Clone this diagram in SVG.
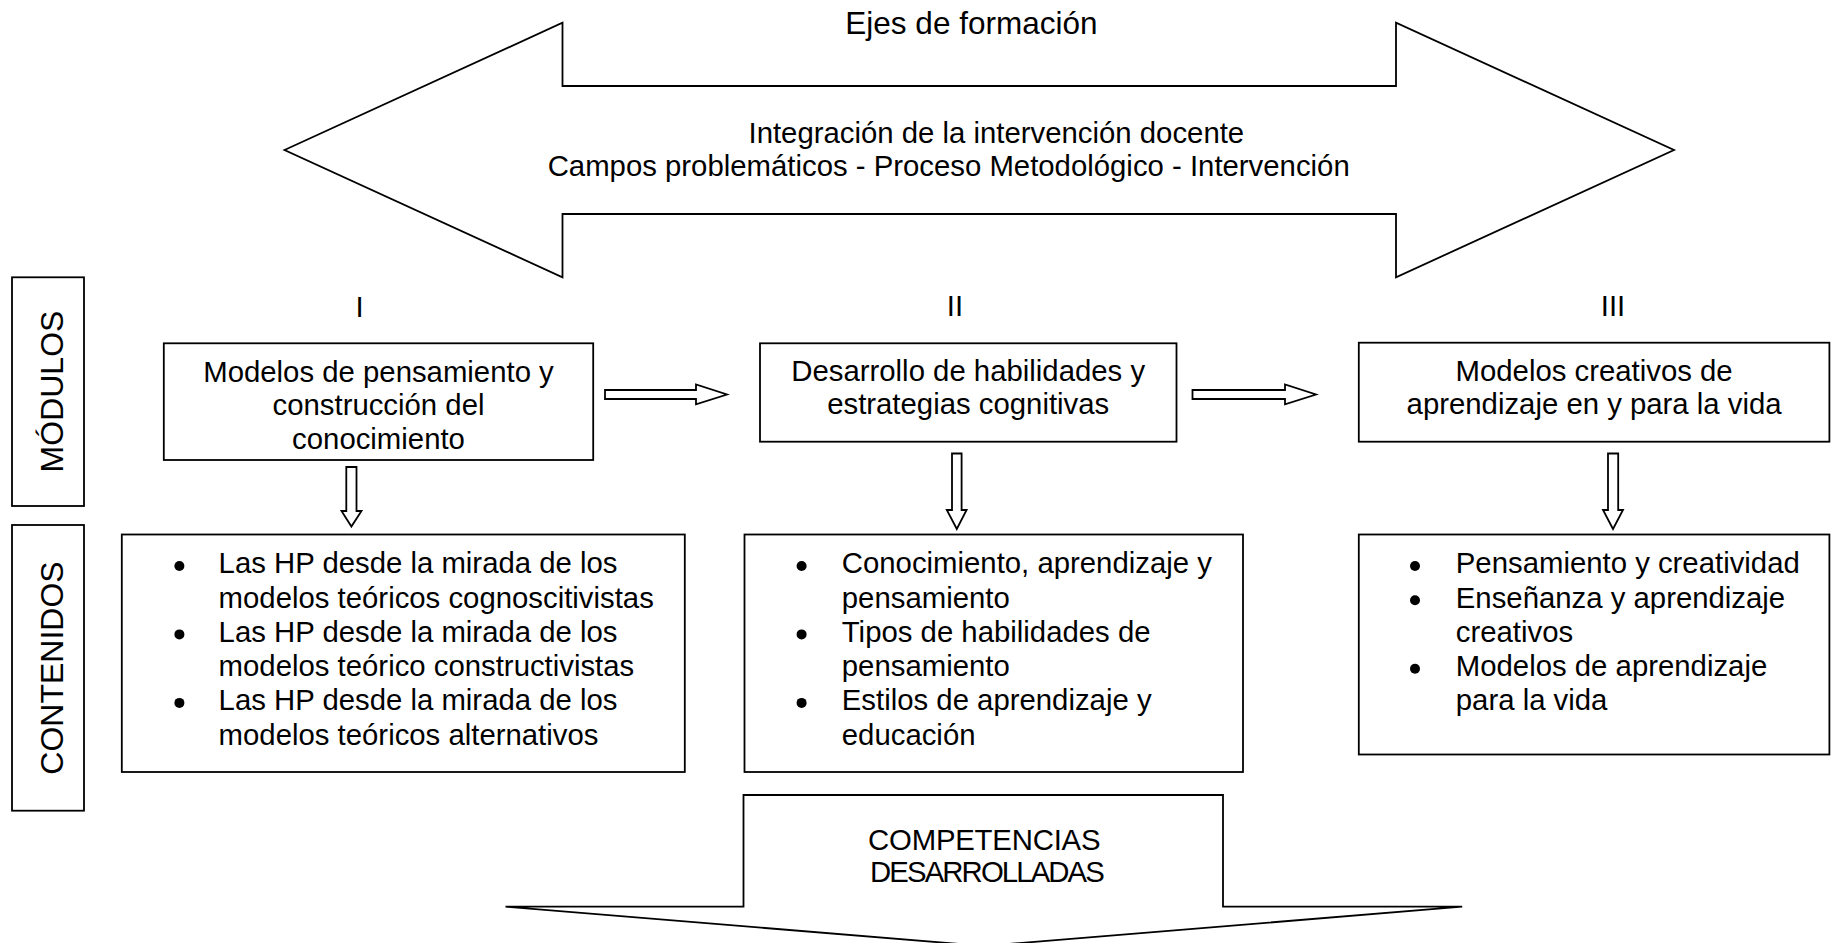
<svg xmlns="http://www.w3.org/2000/svg" width="1835" height="943" viewBox="0 0 1835 943">
<style>
.s{fill:#fff;stroke:#000;stroke-width:1.8;stroke-linejoin:miter}
.t{font-family:"Liberation Sans",Arial,sans-serif;font-size:29.33px;fill:#000}
.c{text-anchor:middle}
.d{fill:#000}
.v{font-family:"Liberation Sans",Arial,sans-serif;font-size:32px;fill:#000;text-anchor:middle}
</style>
<rect width="1835" height="943" fill="#fff"/>
<g id="ejes">
<polygon class="s" points="284.5,150 562.5,22.7 562.5,86 1396,86 1396,22.7 1674,150 1396,277.3 1396,214 562.5,214 562.5,277.3"/>
<text class="t c" x="971.4" y="34" style="font-size:31.5px">Ejes de formación</text>
<text class="t" x="748.5" y="143">Integración de la intervención docente</text>
<text class="t" x="547.7" y="176">Campos problemáticos - Proceso Metodológico - Intervención</text>
</g>
<g id="label-modulos">
<rect class="s" x="12" y="277.3" width="72" height="228.7"/>
<text class="v" transform="translate(62.5,391.5) rotate(-90)">MÓDULOS</text>
</g>
<g id="label-contenidos">
<rect class="s" x="12" y="525" width="72" height="285.7"/>
<text class="v" transform="translate(62.5,668) rotate(-90)">CONTENIDOS</text>
</g>
<g id="numerals">
<text class="t c" x="359.7" y="316.5">I</text>
<text class="t c" x="955" y="316">II</text>
<text class="t c" x="1613" y="316">III</text>
</g>
<g id="modulo-1">
<rect class="s" x="163.8" y="343.3" width="429.4" height="116.7"/>
<text class="t c" x="378.5" y="381.5">Modelos de pensamiento y</text>
<text class="t c" x="378.5" y="415">construcción del</text>
<text class="t c" x="378.5" y="448.5">conocimiento</text>
</g>
<g id="modulo-2">
<rect class="s" x="760" y="343.3" width="416.5" height="98.4"/>
<text class="t c" x="968.2" y="380.5">Desarrollo de habilidades y</text>
<text class="t c" x="968.2" y="414">estrategias cognitivas</text>
</g>
<g id="modulo-3">
<rect class="s" x="1358.8" y="342.7" width="470.6" height="99"/>
<text class="t c" x="1594.1" y="380.5">Modelos creativos de</text>
<text class="t c" x="1594.1" y="414">aprendizaje en y para la vida</text>
</g>
<g id="contenido-1">
<rect class="s" x="121.8" y="534.5" width="563" height="237.5"/>
<circle class="d" cx="179.4" cy="566" r="5"/>
<circle class="d" cx="179.4" cy="634.4" r="5"/>
<circle class="d" cx="179.4" cy="702.9" r="5"/>
<text class="t" x="218.6" y="573.3">Las HP desde la mirada de los</text>
<text class="t" x="218.6" y="607.5">modelos teóricos cognoscitivistas</text>
<text class="t" x="218.6" y="641.7">Las HP desde la mirada de los</text>
<text class="t" x="218.6" y="676">modelos teórico constructivistas</text>
<text class="t" x="218.6" y="710.2">Las HP desde la mirada de los</text>
<text class="t" x="218.6" y="744.5">modelos teóricos alternativos</text>
</g>
<g id="contenido-2">
<rect class="s" x="744.5" y="534.5" width="498.5" height="237.5"/>
<circle class="d" cx="801.6" cy="566" r="5"/>
<circle class="d" cx="801.6" cy="634.4" r="5"/>
<circle class="d" cx="801.6" cy="702.9" r="5"/>
<text class="t" x="841.8" y="573.3">Conocimiento, aprendizaje y</text>
<text class="t" x="841.8" y="607.5">pensamiento</text>
<text class="t" x="841.8" y="641.7">Tipos de habilidades de</text>
<text class="t" x="841.8" y="676">pensamiento</text>
<text class="t" x="841.8" y="710.2">Estilos de aprendizaje y</text>
<text class="t" x="841.8" y="744.5">educación</text>
</g>
<g id="contenido-3">
<rect class="s" x="1358.8" y="534.5" width="470.6" height="220"/>
<circle class="d" cx="1415" cy="566" r="5"/>
<circle class="d" cx="1415" cy="600.2" r="5"/>
<circle class="d" cx="1415" cy="668.7" r="5"/>
<text class="t" x="1455.8" y="573.3">Pensamiento y creatividad</text>
<text class="t" x="1455.8" y="607.5">Enseñanza y aprendizaje</text>
<text class="t" x="1455.8" y="641.7">creativos</text>
<text class="t" x="1455.8" y="676">Modelos de aprendizaje</text>
<text class="t" x="1455.8" y="710.2">para la vida</text>
</g>
<g id="competencias">
<polygon class="s" points="743.5,795 1223,795 1223,906.7 1462.2,906.7 984,946 505.5,906.7 743.5,906.7"/>
<text class="t c" x="984.2" y="849.5" style="letter-spacing:-0.2px">COMPETENCIAS</text>
<text class="t c" x="986.5" y="882" style="letter-spacing:-1.9px">DESARROLLADAS</text>
</g>
<g id="connectors">
<polygon class="s" points="605,390 696,390 696,384.5 727,394.5 696,404.3 696,399 605,399"/>
<polygon class="s" points="1192.5,390 1285,390 1285,384.5 1316,394.5 1285,404.3 1285,399 1192.5,399"/>
<polygon class="s" points="346.3,467 356.5,467 356.5,511 361.5,511 351.4,526.5 341.5,511 346.3,511"/>
<polygon class="s" points="952,453.5 961.6,453.5 961.6,510 966.6,510 956.8,529 946.8,510 952,510"/>
<polygon class="s" points="1608,453.5 1618.2,453.5 1618.2,510 1623,510 1613,529 1603,510 1608,510"/>
</g>
</svg>
